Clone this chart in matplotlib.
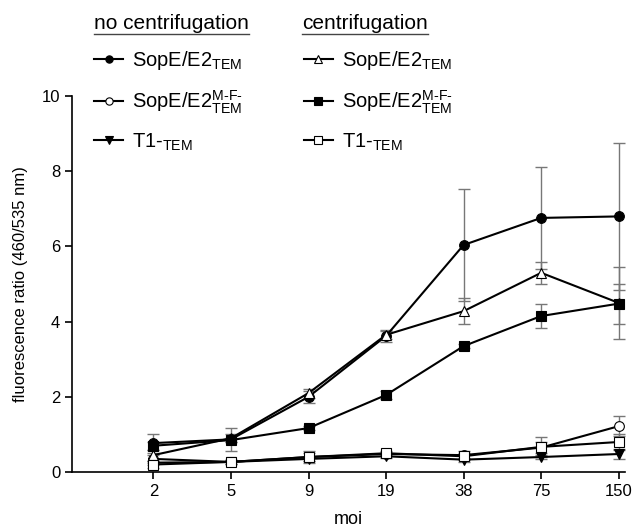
import matplotlib.pyplot as plt
from matplotlib.lines import Line2D

plt.rcParams['font.family'] = ['Liberation Sans', 'DejaVu Sans']
plt.rcParams['mathtext.fontset'] = 'custom'
plt.rcParams['mathtext.rm'] = 'Liberation Sans'
plt.rcParams['mathtext.it'] = 'Liberation Sans'

moi = ['2', '5', '9', '19', '38', '75', '150']

# no centrifugation
nc_sope = [0.77, 0.87, 2.0, 3.62, 6.04, 6.76, 6.8]
nc_sope_err = [0.25, 0.3, 0.15, 0.15, 1.5, 1.35, 1.95]
nc_mf = [0.35, 0.27, 0.4, 0.48, 0.45, 0.65, 1.22]
nc_mf_err = [0.1, 0.05, 0.1, 0.05, 0.1, 0.15, 0.27]
nc_t1 = [0.25, 0.27, 0.35, 0.42, 0.33, 0.4, 0.48]
nc_t1_err = [0.05, 0.05, 0.05, 0.05, 0.05, 0.05, 0.13]

# centrifugation
c_sope = [0.45, 0.9, 2.1, 3.65, 4.28, 5.3, 4.5]
c_sope_err = [0.15, 0.1, 0.12, 0.1, 0.35, 0.3, 0.95]
c_mf = [0.7, 0.85, 1.17, 2.05, 3.35, 4.15, 4.48]
c_mf_err = [0.1, 0.05, 0.05, 0.1, 0.05, 0.32, 0.53]
c_t1 = [0.2, 0.27, 0.4, 0.5, 0.42, 0.67, 0.8]
c_t1_err = [0.1, 0.05, 0.15, 0.05, 0.1, 0.27, 0.2]

lab_sope = r'SopE/E2$_{\mathrm{TEM}}$'
lab_mf = r'SopE/E2$_{\mathrm{TEM}}^{\text{M-F-}}$'
lab_t1 = r'T1-$_{\mathrm{TEM}}$'

series = [
    (nc_sope, nc_sope_err, 'o', 'black', lab_sope),
    (nc_mf, nc_mf_err, 'o', 'white', lab_mf),
    (nc_t1, nc_t1_err, 'v', 'black', lab_t1),
    (c_sope, c_sope_err, '^', 'white', lab_sope),
    (c_mf, c_mf_err, 's', 'black', lab_mf),
    (c_t1, c_t1_err, 's', 'white', lab_t1),
]

fig = plt.figure(figsize=(6.37, 5.31), dpi=100)
ax = fig.add_axes([0.113, 0.111, 0.868, 0.708])

x = list(range(len(moi)))
handles = []
for vals, err, mk, fc, lab in series:
    ax.errorbar(x, vals, yerr=err, fmt='none', ecolor='#777777',
                elinewidth=1, capsize=4, capthick=1, zorder=1)
    h, = ax.plot(x, vals, color='black', lw=1.5, marker=mk, markersize=7,
                 markerfacecolor=fc, markeredgecolor='black',
                 markeredgewidth=0.8, zorder=2, label=lab)
    handles.append(h)

ax.set_xlim(-1.05, 6.08)
ax.set_ylim(0, 10)
ax.set_xticks(x)
ax.set_xticklabels(moi)
ax.set_yticks([0, 2, 4, 6, 8, 10])
ax.tick_params(labelsize=12, direction='out', length=5, width=1.2)
ax.spines['top'].set_visible(False)
ax.spines['right'].set_visible(False)
ax.spines['left'].set_linewidth(1.2)
ax.spines['bottom'].set_linewidth(1.2)
ax.set_xlabel('moi', fontsize=13, labelpad=9)
ax.set_ylabel('fluorescence ratio (460/535 nm)', fontsize=12, labelpad=10)

leg_kw = dict(frameon=False, fontsize=14.5, handlelength=1.45, handletextpad=0.45,
              labelspacing=0.78, borderaxespad=0, markerscale=0.75)
leg1 = fig.legend(handles=handles[:3], loc='upper left',
                  bbox_to_anchor=(0.135, 0.922), **leg_kw)
leg2 = fig.legend(handles=handles[3:], loc='upper left',
                  bbox_to_anchor=(0.464, 0.922), **leg_kw)

headers = [('no centrifugation', 0.147), ('centrifugation', 0.474)]
fig.canvas.draw()
renderer = fig.canvas.get_renderer()
for txt, xpos in headers:
    t = fig.text(xpos, 0.946, txt, fontsize=15, ha='left', va='baseline')
    bb = t.get_window_extent(renderer).transformed(fig.transFigure.inverted())
    fig.add_artist(Line2D([bb.x0, bb.x1], [bb.y0 - 0.002, bb.y0 - 0.002],
                          color='#444444', lw=1, transform=fig.transFigure))

fig.savefig('out.png', dpi=100)
